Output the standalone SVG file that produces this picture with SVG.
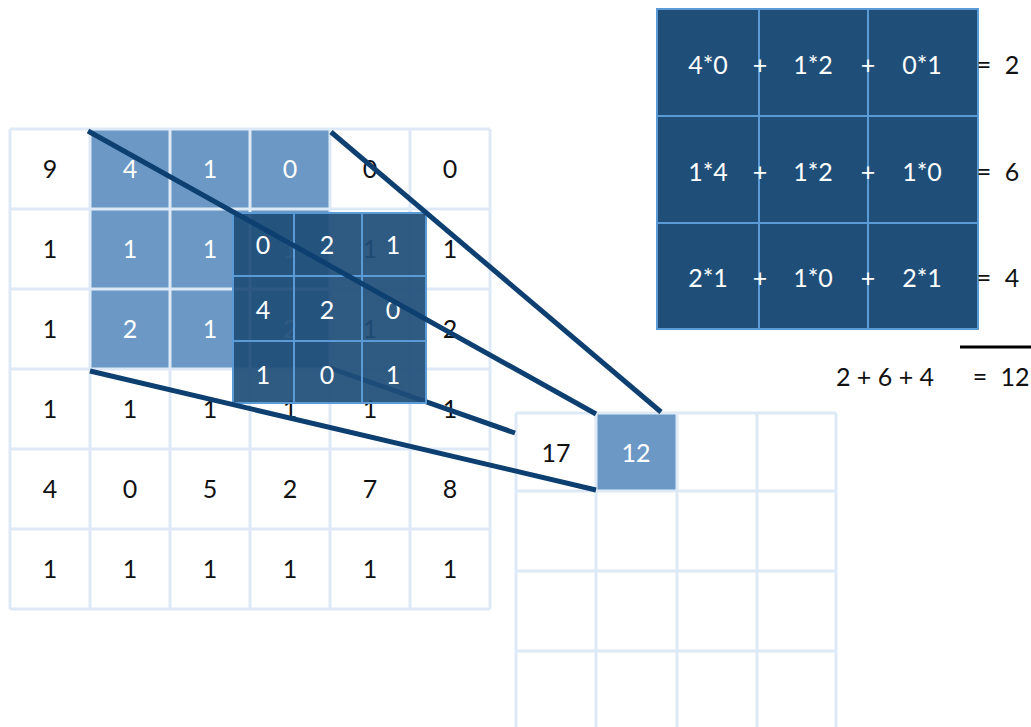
<svg xmlns="http://www.w3.org/2000/svg" width="1031" height="727" viewBox="0 0 1031 727">
<style>
.t{font-family:Lato,"Open Sans",sans-serif;font-size:25px;text-anchor:middle}
.b{fill:#111}
.w{fill:#fff}
.g{fill:none;stroke:#dde9f6;stroke-width:3}
.hl{fill:#6b98c4}
.c{stroke:#0d3f70;stroke-width:5;fill:none}
.k{stroke:#5b9bd5;stroke-width:2;fill:none}
</style>
<rect width="1031" height="727" fill="#fff"/>
<g id="input-grid">
<rect class="hl" x="90" y="129" width="240" height="240"/>
<path class="g" d="M10 129V609M90 129V609M170 129V609M250 129V609M330 129V609M410 129V609M490 129V609M10 129H490M10 209H490M10 289H490M10 369H490M10 449H490M10 529H490M10 609H490"/>
<g class="t">
<text class="b" x="50" y="178">9</text><text class="w" x="130" y="178">4</text><text class="w" x="210" y="178">1</text><text class="w" x="290" y="178">0</text><text class="b" x="370" y="178">0</text><text class="b" x="450" y="178">0</text>
<text class="b" x="50" y="258">1</text><text class="w" x="130" y="258">1</text><text class="w" x="210" y="258">1</text><text class="w" x="290" y="258">1</text><text class="b" x="370" y="258">1</text><text class="b" x="450" y="258">1</text>
<text class="b" x="50" y="338">1</text><text class="w" x="130" y="338">2</text><text class="w" x="210" y="338">1</text><text class="w" x="290" y="338">2</text><text class="b" x="370" y="338">1</text><text class="b" x="450" y="338">2</text>
<text class="b" x="50" y="418">1</text><text class="b" x="130" y="418">1</text><text class="b" x="210" y="418">1</text><text class="b" x="290" y="418">1</text><text class="b" x="370" y="418">1</text><text class="b" x="450" y="418">1</text>
<text class="b" x="50" y="498">4</text><text class="b" x="130" y="498">0</text><text class="b" x="210" y="498">5</text><text class="b" x="290" y="498">2</text><text class="b" x="370" y="498">7</text><text class="b" x="450" y="498">8</text>
<text class="b" x="50" y="578">1</text><text class="b" x="130" y="578">1</text><text class="b" x="210" y="578">1</text><text class="b" x="290" y="578">1</text><text class="b" x="370" y="578">1</text><text class="b" x="450" y="578">1</text>
</g>
</g>
<g id="output-grid">
<rect class="hl" x="596" y="413" width="81" height="78"/>
<path class="g" d="M516 413V730M596 413V730M677 413V730M757 413V730M836 413V730M516 413H836M516 491H836M516 571H836M516 651H836"/>
<text class="t b" x="556" y="462">17</text>
<text class="t w" x="636" y="462">12</text>
</g>
<g id="connectors-back">
<line class="c" x1="330" y1="368" x2="515" y2="433"/>
</g>
<g id="kernel">
<rect x="233" y="213" width="193" height="190" fill="#1f4e79" fill-opacity="0.93"/>
<rect class="k" x="233" y="213" width="193" height="190"/>
<path class="k" d="M294 213V403M362 213V403M233 276H426M233 341H426"/>
<g class="t w">
<text x="263" y="254">0</text><text x="327" y="254">2</text><text x="393" y="254">1</text>
<text x="263" y="319">4</text><text x="327" y="319">2</text><text x="393" y="319">0</text>
<text x="263" y="384">1</text><text x="327" y="384">0</text><text x="393" y="384">1</text>
</g>
</g>
<g id="connectors">
<line class="c" x1="88" y1="131" x2="596" y2="414"/>
<line class="c" x1="331" y1="132" x2="661" y2="412"/>
<line class="c" x1="90" y1="371" x2="596" y2="490"/>
</g>
<g id="equation">
<rect x="657" y="9" width="321" height="320" fill="#1f4e79"/>
<rect class="k" x="657" y="9" width="321" height="320"/>
<path class="k" d="M759 9V329M868 9V329M657 116H978M657 223H978"/>
<g class="t w">
<text x="708" y="74">4*0</text><text x="760" y="74">+</text><text x="813" y="74">1*2</text><text x="868" y="74">+</text><text x="922" y="74">0*1</text>
<text x="708" y="181">1*4</text><text x="760" y="181">+</text><text x="813" y="181">1*2</text><text x="868" y="181">+</text><text x="922" y="181">1*0</text>
<text x="708" y="287">2*1</text><text x="760" y="287">+</text><text x="813" y="287">1*0</text><text x="868" y="287">+</text><text x="922" y="287">2*1</text>
</g>
<g class="t b">
<text x="984" y="74">=</text><text x="1012" y="74">2</text>
<text x="984" y="181">=</text><text x="1012" y="181">6</text>
<text x="984" y="287">=</text><text x="1012" y="287">4</text>
<text x="885" y="386">2 + 6 + 4</text>
<text x="980" y="386">=</text><text x="1015" y="386">12</text>
</g>
<line x1="960" y1="347" x2="1031" y2="347" stroke="#000" stroke-width="3"/>
</g>
</svg>
